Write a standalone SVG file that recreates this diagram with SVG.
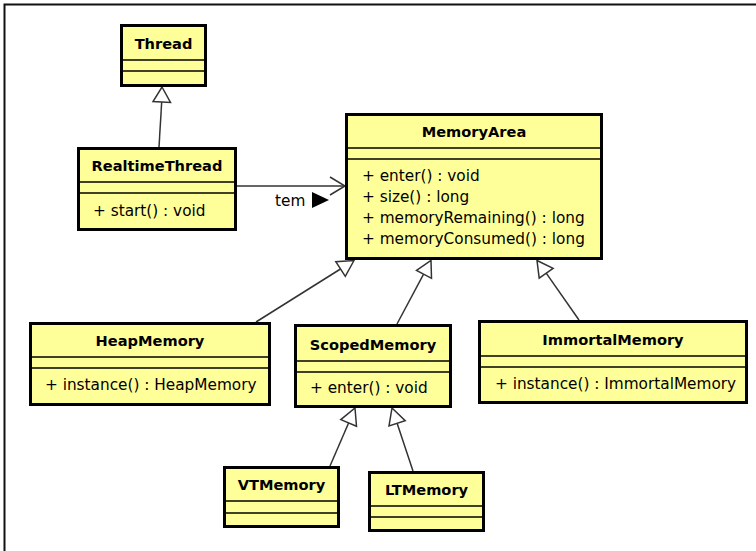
<svg xmlns="http://www.w3.org/2000/svg" width="756" height="551" viewBox="0 0 756 551">
  <style>
    .box { fill: #ffff99; stroke: #000; stroke-width: 3; }
    .shadow { fill: #b0b0b0; }
    .sep { stroke: #000; stroke-width: 1.6; }
    .title { font-family: "DejaVu Sans", sans-serif; font-weight: bold; font-size: 14.6px; text-anchor: middle; fill: #000; }
    .op { font-family: "DejaVu Sans", sans-serif; font-size: 15.3px; fill: #000; }
    .edge { stroke: #333; stroke-width: 1.5; fill: none; }
    .gen { fill: #fff; stroke: #333; stroke-width: 1.5; stroke-linejoin: miter; }
    .frame { stroke: #111; stroke-width: 2; fill: none; }
  </style>

  <rect x="0" y="0" width="756" height="551" fill="#fff"/>
  <!-- frame -->
  <path class="frame" d="M4.5,551 V4.5 H756"/>

  <!-- connectors -->
  <g id="connectors">
    <!-- RealtimeThread extends Thread -->
    <line class="edge" x1="159" y1="147" x2="161.7" y2="102"/>
    <polygon class="gen" points="162,87 170.5,102.5 153,101.5"/>
    <!-- association RealtimeThread -> MemoryArea -->
    <line class="edge" x1="237" y1="186" x2="345" y2="186"/>
    <polyline class="edge" points="330,177 345,186 330,195"/>
    <text class="op" x="275" y="206">tem</text>
    <polygon points="312,192 312,208 329,200" fill="#000"/>
    <!-- HeapMemory extends MemoryArea -->
    <line class="edge" x1="256" y1="322" x2="340.5" y2="269"/>
    <polygon class="gen" points="354,260.5 345.3,276.3 335.8,261.7"/>
    <!-- ScopedMemory extends MemoryArea -->
    <line class="edge" x1="397" y1="324" x2="423.6" y2="274.2"/>
    <polygon class="gen" points="431,260.5 431.5,278.3 416.5,270.3"/>
    <!-- ImmortalMemory extends MemoryArea -->
    <line class="edge" x1="579" y1="320" x2="546.2" y2="273.1"/>
    <polygon class="gen" points="537,260.5 553.1,268.4 539.2,278.1"/>
    <!-- VTMemory extends ScopedMemory -->
    <line class="edge" x1="330" y1="466" x2="348.6" y2="423"/>
    <polygon class="gen" points="355,408 356.5,426.3 340.8,419.6"/>
    <!-- LTMemory extends ScopedMemory -->
    <line class="edge" x1="413" y1="471" x2="397.1" y2="423.2"/>
    <polygon class="gen" points="392,408 405.2,420.6 389,426"/>
  </g>

  <g id="Thread">
    <rect class="shadow" x="123" y="27" width="84" height="60"/>
    <rect class="box" x="121.5" y="25.5" width="84" height="60"/>
    <line class="sep" x1="121.5" y1="60" x2="205.5" y2="60"/>
    <line class="sep" x1="121.5" y1="71" x2="205.5" y2="71"/>
    <text class="title" x="163.5" y="49">Thread</text>
  </g>

  <g id="RealtimeThread">
    <rect class="shadow" x="80" y="150" width="157" height="81"/>
    <rect class="box" x="78.5" y="148.5" width="157" height="81"/>
    <line class="sep" x1="78.5" y1="182" x2="235.5" y2="182"/>
    <line class="sep" x1="78.5" y1="193" x2="235.5" y2="193"/>
    <text class="title" x="157" y="171">RealtimeThread</text>
    <text class="op" x="93" y="216">+ start() : void</text>
  </g>

  <g id="MemoryArea">
    <rect class="shadow" x="348" y="116" width="255" height="144"/>
    <rect class="box" x="346.5" y="114.5" width="255" height="144"/>
    <line class="sep" x1="346.5" y1="148" x2="601.5" y2="148"/>
    <line class="sep" x1="346.5" y1="159" x2="601.5" y2="159"/>
    <text class="title" x="474" y="137">MemoryArea</text>
    <text class="op" x="362" y="181">+ enter() : void</text>
    <text class="op" x="362" y="202">+ size() : long</text>
    <text class="op" x="362" y="223">+ memoryRemaining() : long</text>
    <text class="op" x="362" y="244">+ memoryConsumed() : long</text>
  </g>

  <g id="HeapMemory">
    <rect class="shadow" x="32" y="325" width="239" height="81"/>
    <rect class="box" x="30.5" y="323.5" width="239" height="81"/>
    <line class="sep" x1="30.5" y1="357" x2="269.5" y2="357"/>
    <line class="sep" x1="30.5" y1="368" x2="269.5" y2="368"/>
    <text class="title" x="150" y="346">HeapMemory</text>
    <text class="op" x="45" y="390">+ instance() : HeapMemory</text>
  </g>

  <g id="ScopedMemory">
    <rect class="shadow" x="297" y="327" width="155" height="81"/>
    <rect class="box" x="295.5" y="325.5" width="155" height="81"/>
    <line class="sep" x1="295.5" y1="361" x2="450.5" y2="361"/>
    <line class="sep" x1="295.5" y1="372" x2="450.5" y2="372"/>
    <text class="title" x="373" y="350">ScopedMemory</text>
    <text class="op" x="310" y="393">+ enter() : void</text>
  </g>

  <g id="ImmortalMemory">
    <rect class="shadow" x="481" y="323" width="267" height="81"/>
    <rect class="box" x="479.5" y="321.5" width="267" height="81"/>
    <line class="sep" x1="479.5" y1="356" x2="746.5" y2="356"/>
    <line class="sep" x1="479.5" y1="367" x2="746.5" y2="367"/>
    <text class="title" x="613" y="345">ImmortalMemory</text>
    <text class="op" x="495" y="389">+ instance() : ImmortalMemory</text>
  </g>

  <g id="VTMemory">
    <rect class="shadow" x="226" y="469" width="114" height="59"/>
    <rect class="box" x="224.5" y="467.5" width="114" height="59"/>
    <line class="sep" x1="224.5" y1="501" x2="338.5" y2="501"/>
    <line class="sep" x1="224.5" y1="513" x2="338.5" y2="513"/>
    <text class="title" x="281.5" y="490">VTMemory</text>
  </g>

  <g id="LTMemory">
    <rect class="shadow" x="371" y="474" width="114" height="58"/>
    <rect class="box" x="369.5" y="472.5" width="114" height="58"/>
    <line class="sep" x1="369.5" y1="506" x2="483.5" y2="506"/>
    <line class="sep" x1="369.5" y1="517" x2="483.5" y2="517"/>
    <text class="title" x="426.5" y="495">LTMemory</text>
  </g>
</svg>
